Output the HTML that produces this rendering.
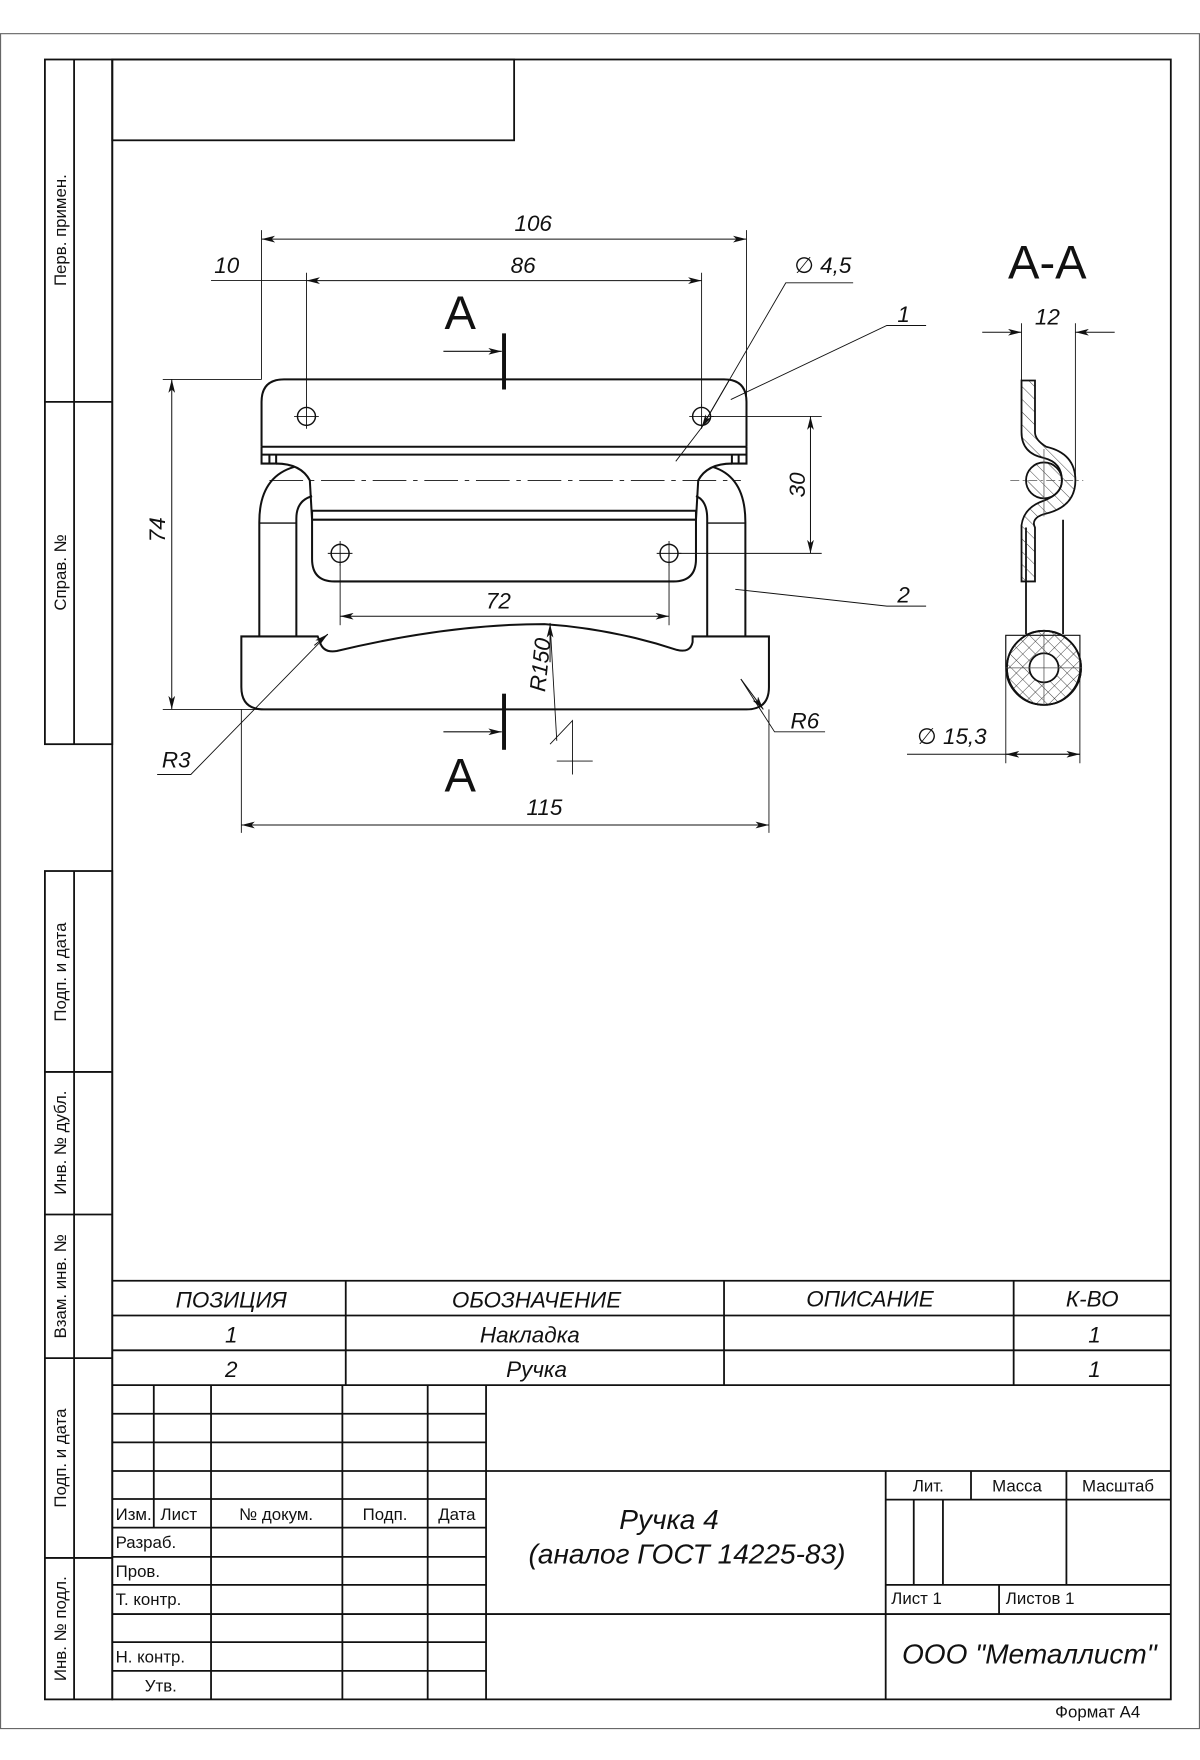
<!DOCTYPE html>
<html><head><meta charset="utf-8"><style>
html,body{margin:0;padding:0;background:#fff}
svg{display:block}
text{font-family:"Liberation Sans","DejaVu Sans",sans-serif;fill:#111}
.i{font-style:italic}
</style></head><body>
<svg width="1200" height="1760" viewBox="0 0 1069 1568" preserveAspectRatio="none" xmlns="http://www.w3.org/2000/svg">
<defs>
<marker id="ar" viewBox="0 0 12 6" refX="12" refY="3" markerWidth="12" markerHeight="6" orient="auto-start-reverse" markerUnits="userSpaceOnUse"><path d="M0,0 L12,3 L0,6 L3,3z" fill="#111"/></marker>
<pattern id="h1" width="8" height="8" patternUnits="userSpaceOnUse" patternTransform="rotate(-45)"><line x1="0" y1="0" x2="0" y2="8" stroke="#333" stroke-width="0.8"/></pattern>
<pattern id="h2" width="8" height="8" patternUnits="userSpaceOnUse" patternTransform="rotate(45)"><line x1="0" y1="0" x2="0" y2="8" stroke="#333" stroke-width="0.8"/></pattern>
</defs>
<rect x="0.5" y="30" width="1068" height="1510" fill="none" stroke="#666" stroke-width="1"/>
<g fill="none" stroke="#111" stroke-width="1.6">
<rect x="100" y="53" width="943" height="1461"/>
<rect x="100" y="53" width="358" height="72"/>
<rect x="40" y="53" width="60" height="610"/>
<line x1="66" y1="53" x2="66" y2="663"/>
<line x1="40" y1="358" x2="100" y2="358"/>
<rect x="40" y="776" width="60" height="738"/>
<line x1="66" y1="776" x2="66" y2="1514"/>
<line x1="40" y1="955" x2="100" y2="955"/>
<line x1="40" y1="1082" x2="100" y2="1082"/>
<line x1="40" y1="1210" x2="100" y2="1210"/>
<line x1="40" y1="1388" x2="100" y2="1388"/>
<line x1="100" y1="1141" x2="1043" y2="1141"/>
<line x1="100" y1="1172" x2="1043" y2="1172"/>
<line x1="100" y1="1203" x2="1043" y2="1203"/>
<line x1="100" y1="1234" x2="1043" y2="1234"/>
<line x1="308" y1="1141" x2="308" y2="1234"/>
<line x1="645" y1="1141" x2="645" y2="1234"/>
<line x1="903" y1="1141" x2="903" y2="1234"/>
<line x1="100" y1="1259.5" x2="433" y2="1259.5"/>
<line x1="100" y1="1285" x2="433" y2="1285"/>
<line x1="100" y1="1310.5" x2="1043" y2="1310.5"/>
<line x1="100" y1="1335.5" x2="433" y2="1335.5"/>
<line x1="100" y1="1361" x2="433" y2="1361"/>
<line x1="100" y1="1387" x2="433" y2="1387"/>
<line x1="100" y1="1412" x2="433" y2="1412"/>
<line x1="100" y1="1438" x2="1043" y2="1438"/>
<line x1="100" y1="1463" x2="433" y2="1463"/>
<line x1="100" y1="1488.6" x2="433" y2="1488.6"/>
<line x1="137" y1="1234" x2="137" y2="1361"/>
<line x1="188" y1="1234" x2="188" y2="1514"/>
<line x1="305" y1="1234" x2="305" y2="1514"/>
<line x1="381" y1="1234" x2="381" y2="1514"/>
<line x1="433" y1="1234" x2="433" y2="1514"/>
<line x1="789" y1="1310.5" x2="789" y2="1514"/>
<line x1="789" y1="1336" x2="1043" y2="1336"/>
<line x1="789" y1="1412" x2="1043" y2="1412"/>
<line x1="865" y1="1310.5" x2="865" y2="1336"/>
<line x1="950" y1="1310.5" x2="950" y2="1412"/>
<line x1="814" y1="1336" x2="814" y2="1412"/>
<line x1="840" y1="1336" x2="840" y2="1412"/>
<line x1="890" y1="1412" x2="890" y2="1438"/>
</g>
<g font-size="15">
<text transform="translate(59,205) rotate(-90)" text-anchor="middle">Перв. примен.</text>
<text transform="translate(59,510) rotate(-90)" text-anchor="middle">Справ. №</text>
<text transform="translate(59,866) rotate(-90)" text-anchor="middle">Подп. и дата</text>
<text transform="translate(59,1018) rotate(-90)" text-anchor="middle">Инв. № дубл.</text>
<text transform="translate(59,1146) rotate(-90)" text-anchor="middle">Взам. инв. №</text>
<text transform="translate(59,1299) rotate(-90)" text-anchor="middle">Подп. и дата</text>
<text transform="translate(59,1451) rotate(-90)" text-anchor="middle">Инв. № подл.</text>
</g>
<g class="i" font-size="20" text-anchor="middle">
<text x="206" y="1165">ПОЗИЦИЯ</text>
<text x="478" y="1165">ОБОЗНАЧЕНИЕ</text>
<text x="775" y="1164">ОПИСАНИЕ</text>
<text x="973" y="1164" font-family="Liberation Serif">К-ВО</text>
<text x="206" y="1196">1</text>
<text x="472" y="1196">Накладка</text>
<text x="975" y="1196">1</text>
<text x="206" y="1227">2</text>
<text x="478" y="1227">Ручка</text>
<text x="975" y="1227">1</text>
</g>
<g font-size="15">
<text x="103" y="1354">Изм.</text>
<text x="143" y="1354">Лист</text>
<text x="246" y="1354" text-anchor="middle">№ докум.</text>
<text x="343" y="1354" text-anchor="middle">Подп.</text>
<text x="407" y="1354" text-anchor="middle">Дата</text>
<text x="103" y="1379">Разраб.</text>
<text x="103" y="1405">Пров.</text>
<text x="103" y="1430">Т. контр.</text>
<text x="103" y="1481">Н. контр.</text>
<text x="129" y="1507">Утв.</text>
<text x="827" y="1329" text-anchor="middle">Лит.</text>
<text x="906" y="1329" text-anchor="middle">Масса</text>
<text x="996" y="1329" text-anchor="middle">Масштаб</text>
<text x="794" y="1429">Лист 1</text>
<text x="896" y="1429">Листов 1</text>
<text x="940" y="1530">Формат А4</text>
</g>
<g class="i" font-size="25" text-anchor="middle">
<text x="596" y="1362">Ручка 4</text>
<text x="612" y="1393">(аналог ГОСТ 14225-83)</text>
<text x="917" y="1482">ООО "Металлист"</text>
</g>

<g fill="none" stroke="#111" stroke-width="1.8">
<path d="M233,398 L233,358 Q233,338 253,338 L645,338 Q665,338 665,358 L665,398"/>
<line x1="233" y1="398" x2="665" y2="398"/>
<line x1="233" y1="405" x2="665" y2="405"/>
<path d="M233,398 L233,413 L246,413 L246,405 M240,405 L240,413"/>
<path d="M665,398 L665,413 L652,413 L652,405 M658,405 L658,413"/>
<path d="M246,413 Q268,413 276,428 L278,463"/>
<path d="M652,413 Q630,413 622,428 L620,463"/>
<path d="M231,567 L231,465 Q231,425 262,416"/>
<path d="M664,567 L664,465 Q664,425 635,416"/>
<path d="M264,567 L264,462 Q264,446 278,442"/>
<path d="M630,567 L630,462 Q630,446 620,442"/>
<line x1="231" y1="466" x2="264" y2="466" stroke-width="1.2"/>
<line x1="630" y1="466" x2="664" y2="466" stroke-width="1.2"/>
<line x1="278" y1="455" x2="620" y2="455"/>
<line x1="278" y1="463" x2="620" y2="463"/>
<path d="M278,455 L278,498 Q278,518 298,518 L600,518 Q620,518 620,498 L620,455"/>
<path d="M264,567 L215,567 L215,612 Q215,632 235,632 L665,632 Q685,632 685,612 L685,567 L617,567 L617,572 Q615,582 603,579 Q545,560 485,556 Q400,556 300,580 Q288,582 285,572 L283,567 L264,567"/>
</g>
<g fill="none" stroke="#111" stroke-width="1.3">
<circle cx="273" cy="371" r="8"/><circle cx="625" cy="371" r="8"/>
<circle cx="303" cy="493" r="8"/><circle cx="596" cy="493" r="8"/>
</g>
<g stroke="#111" stroke-width="0.8" fill="none">
<path d="M262,371h22M273,360v22M614,371h22M625,360v22M292,493h22M303,482v22M585,493h22M596,482v22"/>
<line x1="240" y1="428" x2="660" y2="428" stroke-dasharray="30,6,4,6"/>
<line x1="233" y1="205" x2="233" y2="338"/>
<line x1="665" y1="205" x2="665" y2="398"/>
<line x1="273" y1="243" x2="273" y2="362"/>
<line x1="625" y1="243" x2="625" y2="362"/>
<line x1="145" y1="338" x2="233" y2="338"/>
<line x1="145" y1="632" x2="235" y2="632"/>
<line x1="633" y1="371" x2="732" y2="371"/>
<line x1="604" y1="493" x2="732" y2="493"/>
<line x1="303" y1="502" x2="303" y2="557"/>
<line x1="596" y1="502" x2="596" y2="557"/>
<line x1="215" y1="632" x2="215" y2="742"/>
<line x1="685" y1="632" x2="685" y2="742"/>
<line x1="910" y1="288" x2="910" y2="340"/>
<line x1="958" y1="288" x2="958" y2="430"/>
<line x1="896" y1="566" x2="896" y2="680"/>
<line x1="962" y1="566" x2="962" y2="680"/>
<path d="M651,356 L790,290 L825,290"/>
<path d="M655,525 L790,540 L825,540"/>
<path d="M760,252 L700,252 L625,381 L602,411"/>
<path d="M140,690 L170,690 L292,565"/>
<path d="M660,605 L690,652 L735,652"/>
<path d="M490,555 L496,660 M490,663 L510,642 L510,690 M496,678 L528,678"/>
<path d="M188,250 L273,250"/>
</g>
<g stroke="#111" stroke-width="0.9" fill="none">
<line x1="233" y1="213" x2="665" y2="213" marker-start="url(#ar)" marker-end="url(#ar)"/>
<line x1="273" y1="250" x2="625" y2="250" marker-start="url(#ar)" marker-end="url(#ar)"/>
<line x1="153" y1="338" x2="153" y2="632" marker-start="url(#ar)" marker-end="url(#ar)"/>
<line x1="722" y1="371" x2="722" y2="493" marker-start="url(#ar)" marker-end="url(#ar)"/>
<line x1="303" y1="549" x2="596" y2="549" marker-start="url(#ar)" marker-end="url(#ar)"/>
<line x1="215" y1="735" x2="685" y2="735" marker-start="url(#ar)" marker-end="url(#ar)"/>
<line x1="875" y1="296" x2="910" y2="296" marker-end="url(#ar)"/>
<line x1="993" y1="296" x2="958" y2="296" marker-end="url(#ar)"/>
<line x1="808" y1="672" x2="962" y2="672"/>
<line x1="930" y1="672" x2="896" y2="672" marker-end="url(#ar)"/>
<line x1="930" y1="672" x2="962" y2="672" marker-end="url(#ar)"/>
<line x1="650" y1="338" x2="625" y2="381" marker-end="url(#ar)"/>
<line x1="280" y1="575" x2="292" y2="565" marker-end="url(#ar)"/>
<line x1="660" y1="605" x2="680" y2="632" marker-end="url(#ar)"/>
<line x1="490" y1="590" x2="490" y2="556" marker-end="url(#ar)"/>
</g>
<g stroke="#111">
<line x1="449" y1="297" x2="449" y2="347" stroke-width="3.5"/>
<line x1="449" y1="618" x2="449" y2="668" stroke-width="3.5"/>
<line x1="395" y1="313" x2="447" y2="313" stroke-width="1" marker-end="url(#ar)"/>
<line x1="395" y1="652" x2="447" y2="652" stroke-width="1" marker-end="url(#ar)"/>
</g>
<text x="410" y="293" font-size="42" text-anchor="middle">А</text>
<text x="410" y="705" font-size="42" text-anchor="middle">А</text>
<text x="933" y="248" font-size="42" text-anchor="middle">А-А</text>
<g class="i" font-size="20" text-anchor="middle">
<text x="475" y="206">106</text>
<text x="466" y="243">86</text>
<text x="202" y="243">10</text>
<text x="733" y="243">∅ 4,5</text>
<text x="805" y="287">1</text>
<text x="805" y="537">2</text>
<text x="444" y="542">72</text>
<text x="485" y="726">115</text>
<text x="157" y="684">R3</text>
<text x="717" y="649">R6</text>
<text x="933" y="289">12</text>
<text x="848" y="663">∅ 15,3</text>
<text transform="translate(147,472) rotate(-90)">74</text>
<text transform="translate(717,432) rotate(-90)">30</text>
<text transform="translate(488,593) rotate(-84)">R150</text>
</g>
<g stroke="#111" stroke-width="1.6">
<path d="M914,470 L914,565 M947,463 L947,565" fill="none"/>
<path d="M910,339 L922,339 L922,385 Q922,392 932,398 Q958,404 958,428 Q958,452 930,458 Q918,462 922,470 L922,518 L910,518 L910,468 Q912,452 930,446 Q946,440 946,428 Q946,412 930,408 Q910,404 910,385 Z" fill="url(#h1)"/>
<circle cx="930" cy="428" r="16" fill="url(#h1)"/>
<path d="M896,566 L962,566 L962,595 A33,33 0 0 1 896,595 Z" fill="#fff" stroke-width="1"/>
<circle cx="930" cy="595" r="33" fill="url(#h1)"/>
<circle cx="930" cy="595" r="33" fill="url(#h2)"/>
<circle cx="930" cy="595" r="13" fill="#fff"/>
</g>
<g stroke="#555" stroke-width="0.7" fill="none">
<line x1="900" y1="428" x2="965" y2="428" stroke-dasharray="8,3,2,3"/>
<line x1="930" y1="400" x2="930" y2="460"/>
<line x1="896" y1="595" x2="964" y2="595"/>
<line x1="930" y1="562" x2="930" y2="628"/>
</g>
</svg>
</body></html>
